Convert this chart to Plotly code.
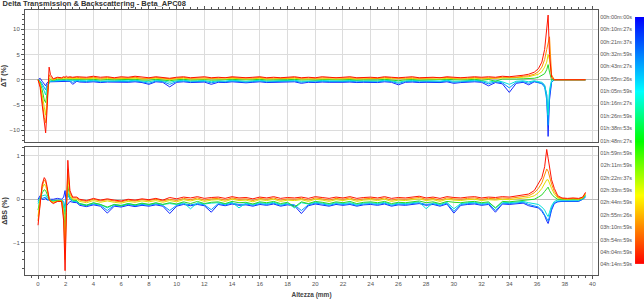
import plotly.graph_objects as go

# ---------------- data ----------------
X_A = [0.0, 0.15, 0.3, 0.45, 0.55, 0.65, 0.8, 0.9, 1.1, 1.4, 1.7, 1.85, 1.95, 2.05, 2.15, 2.3, 2.5, 2.8]
X_B = [3.0, 3.5, 4.0, 4.5, 5.0, 5.5, 6.0, 6.5, 7.0, 7.5, 8.0, 8.5, 9.0,
       9.5, 10.0, 10.5, 11.0, 11.5, 12.0, 12.5, 13.0, 13.5, 14.0, 14.5, 15.0, 15.5,
       16.0, 16.5, 17.0, 17.5, 18.0, 18.5, 19.0, 19.5, 20.0, 20.5, 21.0, 21.5, 22.0,
       22.5, 23.0, 23.5, 24.0, 24.5, 25.0, 25.5, 26.0, 26.5, 27.0, 27.5, 28.0, 28.5,
       29.0, 29.5, 30.0, 30.5, 31.0, 31.5, 32.0, 32.5, 33.0, 33.5, 34.0, 34.5, 35.0]
X_C = [35.4, 35.8, 36.1, 36.35, 36.55, 36.7, 36.8, 36.9, 37.05, 37.25, 37.5, 37.8, 38.2, 38.6, 39.0, 39.3, 39.5]
HEIGHT_MM = X_A + X_B + X_C

SCAN_NAMES = ["00h:01m:27s", "00h:23m:37s", "00h:43m:27s", "01h:05m:59s", "01h:38m:53s", "02h:33m:59s", "04h:14m:59s"]
SCAN_COLORS = ["rgb(20,40,255)", "rgb(0,150,255)", "rgb(0,225,215)", "rgb(40,215,40)",
               "rgb(225,225,0)", "rgb(255,140,0)", "rgb(255,20,0)"]

DT_BLUE = [0.0, 0.3, -0.3, -0.8, -1.2, -0.6, -0.3, -0.4, -0.4, -0.3, -0.3, -0.3, -0.3, -0.35, -0.3, -0.3, -0.9, -0.3,
           -0.45, -0.5, -0.4, -0.55, -0.45, -0.5, -0.45, -0.5, -0.4, -0.55, -0.9, -0.4, -0.5,
           -1.4, -0.5, -0.4, -0.55, -0.5, -0.45, -0.9, -0.5, -0.55, -0.4, -0.5, -0.6, -0.5,
           -0.4, -0.55, -0.5, -0.55, -0.5, -0.4, -0.7, -0.5, -0.55, -0.45, -0.5, -0.55, -0.5,
           -0.45, -0.55, -0.5, -0.5, -0.55, -0.4, -0.5, -1.0, -0.5, -0.45, -0.55, -0.5, -0.5,
           -0.55, -0.4, -0.7, -0.55, -0.5, -0.4, -0.5, -1.2, -0.55, -0.8, -2.5, -0.7, -0.5,
           -1.0, -0.4, -0.5, -0.7, -1.2, -3.0, -11.2, -4.0, -0.5, 0.0, 0.0, 0.0, 0.0, 0.0, 0.0, 0.0, 0.0]
DT_AZURE = [0.0, -0.2, -0.8, -1.6, -2.0, -1.0, -0.5, -0.3, -0.3, -0.2, -0.2, -0.2, -0.15, -0.2, -0.2, -0.25, -0.5, -0.2,
            -0.3, -0.35, -0.25, -0.4, -0.3, -0.35, -0.3, -0.35, -0.25, -0.4, -0.7, -0.25, -0.35,
            -0.9, -0.35, -0.25, -0.4, -0.35, -0.3, -0.6, -0.35, -0.4, -0.25, -0.35, -0.45, -0.35,
            -0.25, -0.4, -0.35, -0.4, -0.35, -0.25, -0.5, -0.35, -0.4, -0.3, -0.35, -0.4, -0.35,
            -0.3, -0.4, -0.35, -0.35, -0.4, -0.25, -0.35, -0.7, -0.35, -0.3, -0.4, -0.35, -0.35,
            -0.4, -0.25, -0.5, -0.4, -0.35, -0.25, -0.35, -0.8, -0.4, -0.6, -1.6, -0.5, -0.35,
            -0.7, -0.3, -0.5, -0.8, -1.5, -4.0, -9.0, -3.0, -0.5, 0.0, 0.0, 0.0, 0.0, 0.0, 0.0, 0.0, 0.0]
DT_CYAN = [0.0, -0.3, -1.2, -2.5, -3.0, -1.5, -0.5, -0.2, -0.2, -0.1, -0.1, -0.05, -0.1, 0.0, -0.05, -0.1, -0.1, -0.05,
           -0.15, -0.2, -0.1, -0.25, -0.15, -0.2, -0.15, -0.2, -0.1, -0.25, -0.4, -0.1, -0.2,
           -0.5, -0.2, -0.1, -0.25, -0.2, -0.15, -0.4, -0.2, -0.25, -0.1, -0.2, -0.3, -0.2,
           -0.1, -0.25, -0.2, -0.25, -0.2, -0.1, -0.3, -0.2, -0.25, -0.15, -0.2, -0.25, -0.2,
           -0.15, -0.25, -0.2, -0.2, -0.25, -0.1, -0.2, -0.5, -0.2, -0.15, -0.25, -0.2, -0.2,
           -0.25, -0.1, -0.3, -0.25, -0.2, -0.1, -0.2, -0.5, -0.2, -0.4, -0.9, -0.3, -0.2,
           -0.4, -0.2, -0.3, -0.5, -1.0, -3.0, -7.0, -2.0, 0.0, 0.0, 0.0, 0.0, 0.0, 0.0, 0.0, 0.0, 0.0]
DT_GREEN = [0.0, -0.5, -2.0, -4.0, -4.5, -2.5, -0.2, 0.0, -0.1, 0.1, 0.05, 0.1, 0.1, 0.15, 0.1, 0.1, 0.1, 0.1,
            0.05, 0.0, 0.1, -0.05, 0.05, 0.0, 0.05, 0.0, 0.1, -0.05, -0.1, 0.1, 0.0,
            -0.2, 0.0, 0.1, -0.05, 0.0, 0.05, -0.1, 0.0, -0.05, 0.1, 0.0, -0.05, 0.0,
            0.1, -0.05, 0.0, -0.05, 0.0, 0.1, -0.05, 0.0, -0.05, 0.05, 0.0, -0.05, 0.0,
            0.05, -0.05, 0.0, 0.0, -0.05, 0.1, 0.0, -0.2, 0.0, 0.05, -0.05, 0.0, 0.0,
            -0.05, 0.1, 0.0, -0.05, 0.0, 0.1, -0.1, 0.05, -0.3, 0.15, 0.1, 0.15, 0.2,
            0.2, 0.3, 0.5, 0.8, 1.2, 2.0, 3.0, 1.5, 0.0, 0.0, 0.0, 0.0, 0.0, 0.0, 0.0, 0.0, 0.0]
DT_YELLOW = [0.0, -0.8, -3.0, -6.0, -7.0, -4.0, 0.3, 0.2, 0.0, 0.3, 0.2, 0.3, 0.3, 0.35, 0.3, 0.3, 0.3, 0.35,
             0.25, 0.2, 0.3, 0.15, 0.25, 0.2, 0.25, 0.2, 0.3, 0.15, 0.2, 0.3, 0.2,
             0.05, 0.2, 0.3, 0.15, 0.2, 0.25, 0.2, 0.2, 0.15, 0.3, 0.2, 0.15, 0.2,
             0.3, 0.15, 0.2, 0.15, 0.2, 0.3, 0.15, 0.2, 0.15, 0.25, 0.2, 0.15, 0.2,
             0.25, 0.15, 0.2, 0.2, 0.15, 0.3, 0.2, 0.15, 0.2, 0.25, 0.15, 0.2, 0.2,
             0.15, 0.3, 0.2, 0.15, 0.2, 0.3, 0.2, 0.25, 0.2, 0.35, 0.3, 0.35, 0.5,
             0.6, 0.8, 1.1, 1.6, 2.5, 3.5, 5.0, 4.0, 0.5, 0.0, 0.0, 0.0, 0.0, 0.0, 0.0, 0.0, 0.0]
DT_ORANGE = [0.0, -1.0, -4.0, -7.5, -8.5, -5.0, 1.0, 0.5, 0.1, 0.4, 0.3, 0.5, 0.4, 0.5, 0.4, 0.45, 0.4, 0.5,
             0.4, 0.35, 0.5, 0.3, 0.45, 0.3, 0.4, 0.35, 0.5, 0.3, 0.3, 0.45, 0.35,
             0.2, 0.35, 0.45, 0.3, 0.35, 0.4, 0.3, 0.35, 0.3, 0.45, 0.35, 0.3, 0.35,
             0.45, 0.3, 0.35, 0.3, 0.35, 0.45, 0.3, 0.35, 0.3, 0.4, 0.35, 0.3, 0.35,
             0.4, 0.3, 0.35, 0.35, 0.3, 0.45, 0.35, 0.3, 0.35, 0.4, 0.3, 0.35, 0.35,
             0.3, 0.45, 0.35, 0.3, 0.35, 0.45, 0.35, 0.4, 0.35, 0.5, 0.45, 0.5, 0.7,
             0.8, 1.1, 1.6, 2.5, 4.0, 6.0, 7.5, 8.5, 1.0, 0.0, 0.0, 0.0, 0.0, 0.0, 0.0, 0.0, 0.0]
DT_RED = [0.0, -1.5, -5.0, -9.0, -10.5, -6.0, 2.5, 1.0, 0.2, 0.5, 0.4, 0.6, 0.5, 0.7, 0.5, 0.6, 0.5, 0.6,
          0.6, 0.5, 0.7, 0.5, 0.6, 0.4, 0.6, 0.5, 0.7, 0.5, 0.4, 0.6, 0.5,
          0.3, 0.5, 0.6, 0.4, 0.5, 0.6, 0.4, 0.5, 0.4, 0.6, 0.5, 0.4, 0.5,
          0.6, 0.4, 0.5, 0.4, 0.5, 0.6, 0.4, 0.5, 0.4, 0.6, 0.5, 0.4, 0.5,
          0.6, 0.4, 0.5, 0.5, 0.4, 0.6, 0.5, 0.4, 0.5, 0.6, 0.4, 0.5, 0.5,
          0.4, 0.6, 0.5, 0.4, 0.5, 0.6, 0.5, 0.6, 0.5, 0.7, 0.6, 0.7, 0.9,
          1.1, 1.5, 2.2, 3.5, 6.0, 10.0, 12.8, 5.0, 0.5, 0.0, 0.0, 0.0, 0.0, 0.0, 0.0, 0.0, 0.0]

BS_BLUE = [0.0, 0.08, 0.0, 0.0, 0.02, -0.02, 0.0, 0.0, 0.0, 0.02, 0.0, 0.05, 0.2, -0.15, -0.1, -0.05, -0.07, -0.08,
           -0.14, -0.17, -0.13, -0.16, -0.32, -0.16, -0.18, -0.14, -0.17, -0.14, -0.16, -0.13, -0.16,
           -0.33, -0.16, -0.12, -0.15, -0.12, -0.15, -0.3, -0.12, -0.15, -0.11, -0.14, -0.13, -0.16,
           -0.12, -0.14, -0.11, -0.16, -0.13, -0.15, -0.33, -0.15, -0.11, -0.13, -0.16, -0.12, -0.14,
           -0.12, -0.16, -0.13, -0.12, -0.14, -0.11, -0.16, -0.13, -0.14, -0.12, -0.1, -0.14, -0.12,
           -0.16, -0.11, -0.32, -0.14, -0.12, -0.11, -0.14, -0.12, -0.3, -0.11, -0.12, -0.1, -0.09,
           -0.15, -0.18, -0.2, -0.28, -0.38, -0.5, -0.56, -0.45, -0.25, -0.1, -0.06, -0.05, -0.05, -0.04, -0.05, 0.0, 0.05]
BS_AZURE = [-0.05, 0.05, 0.02, 0.05, 0.05, 0.0, -0.03, -0.02, -0.03, -0.02, -0.02, -0.05, -0.2, 0.05, 0.1, 0.0, -0.05, -0.06,
            -0.12, -0.15, -0.11, -0.14, -0.26, -0.14, -0.16, -0.12, -0.15, -0.12, -0.14, -0.11, -0.14,
            -0.26, -0.14, -0.1, -0.13, -0.1, -0.13, -0.24, -0.1, -0.13, -0.09, -0.12, -0.11, -0.14,
            -0.1, -0.12, -0.09, -0.14, -0.11, -0.13, -0.26, -0.13, -0.09, -0.11, -0.14, -0.1, -0.12,
            -0.1, -0.14, -0.11, -0.1, -0.12, -0.09, -0.14, -0.11, -0.12, -0.1, -0.08, -0.12, -0.1,
            -0.14, -0.09, -0.28, -0.12, -0.1, -0.09, -0.12, -0.1, -0.26, -0.09, -0.1, -0.08, -0.07,
            -0.12, -0.15, -0.18, -0.25, -0.35, -0.45, -0.5, -0.4, -0.2, -0.08, -0.05, -0.04, -0.04, -0.03, -0.04, 0.0, 0.06]
BS_CYAN = [-0.1, 0.02, 0.08, 0.1, 0.1, 0.05, -0.02, -0.03, -0.04, -0.03, -0.02, -0.1, -0.35, 0.0, 0.15, 0.02, -0.04, -0.05,
           -0.1, -0.13, -0.09, -0.12, -0.2, -0.12, -0.14, -0.1, -0.13, -0.1, -0.12, -0.09, -0.12,
           -0.1, -0.12, -0.08, -0.22, -0.08, -0.11, -0.09, -0.08, -0.11, -0.07, -0.2, -0.09, -0.12,
           -0.08, -0.1, -0.07, -0.12, -0.09, -0.2, -0.08, -0.11, -0.07, -0.09, -0.12, -0.08, -0.1,
           -0.08, -0.12, -0.09, -0.08, -0.1, -0.07, -0.12, -0.09, -0.1, -0.08, -0.06, -0.22, -0.08,
           -0.12, -0.07, -0.22, -0.1, -0.08, -0.07, -0.1, -0.08, -0.2, -0.07, -0.08, -0.06, -0.05,
           -0.08, -0.1, -0.12, -0.18, -0.25, -0.35, -0.4, -0.3, -0.15, -0.05, -0.02, -0.02, -0.02, -0.02, -0.02, 0.01, 0.08]
BS_GREEN = [-0.25, 0.0, 0.15, 0.22, 0.2, 0.12, 0.0, -0.03, -0.05, -0.03, -0.03, -0.2, -0.7, -0.05, 0.3, 0.05, -0.02, -0.03,
            -0.1, -0.14, -0.08, -0.12, -0.18, -0.12, -0.15, -0.1, -0.13, -0.09, -0.12, -0.08, -0.12,
            -0.08, -0.11, -0.06, -0.1, -0.05, -0.1, -0.07, -0.06, -0.1, -0.05, -0.08, -0.07, -0.11,
            -0.06, -0.08, -0.05, -0.1, -0.07, -0.18, -0.06, -0.1, -0.05, -0.07, -0.1, -0.06, -0.08,
            -0.05, -0.1, -0.07, -0.06, -0.08, -0.05, -0.1, -0.07, -0.08, -0.06, -0.04, -0.08, -0.06,
            -0.1, -0.05, -0.07, -0.08, -0.06, -0.05, -0.08, -0.06, -0.2, -0.05, -0.06, -0.04, -0.02,
            -0.02, 0.0, 0.05, 0.1, 0.18, 0.25, 0.28, 0.2, 0.12, 0.05, 0.0, 0.0, -0.01, 0.0, -0.01, 0.02, 0.1]
BS_YELLOW = [-0.4, 0.0, 0.25, 0.35, 0.3, 0.2, 0.0, -0.05, -0.06, -0.04, -0.03, -0.3, -1.1, -0.1, 0.5, 0.1, 0.0, 0.0,
             -0.05, -0.08, -0.03, -0.07, -0.04, -0.07, -0.09, -0.05, -0.07, -0.04, -0.06, -0.03, -0.07,
             -0.03, -0.06, -0.01, -0.04, 0.0, -0.05, -0.02, -0.01, -0.05, 0.0, -0.03, -0.02, -0.06,
             -0.01, -0.03, 0.0, -0.05, -0.02, -0.03, -0.01, -0.05, 0.0, -0.02, -0.05, -0.01, -0.03,
             0.0, -0.05, -0.02, -0.01, -0.03, 0.0, -0.05, -0.02, -0.03, -0.01, 0.01, -0.03, -0.01,
             -0.05, 0.0, -0.02, -0.03, -0.01, 0.0, -0.03, -0.01, -0.02, 0.0, -0.01, 0.01, 0.03,
             0.04, 0.08, 0.15, 0.25, 0.35, 0.45, 0.45, 0.35, 0.25, 0.12, 0.03, 0.01, 0.0, 0.01, 0.0, 0.03, 0.12]
BS_ORANGE = [-0.5, -0.05, 0.3, 0.45, 0.4, 0.25, 0.0, -0.05, -0.08, -0.05, -0.05, -0.4, -1.4, -0.2, 0.7, 0.15, 0.03, 0.03,
             -0.02, -0.05, 0.0, -0.04, -0.01, -0.04, -0.06, -0.02, -0.04, -0.01, -0.03, 0.0, -0.04,
             0.0, -0.03, 0.02, -0.01, 0.03, -0.02, 0.01, 0.02, -0.02, 0.03, 0.0, 0.01, -0.03,
             0.02, 0.0, 0.03, -0.02, 0.01, 0.0, 0.02, -0.02, 0.03, 0.01, -0.02, 0.02, 0.0,
             0.03, -0.02, 0.01, 0.02, 0.0, 0.03, -0.02, 0.01, 0.0, 0.02, 0.04, 0.0, 0.02,
             -0.02, 0.03, 0.01, 0.0, 0.02, 0.03, 0.0, 0.02, 0.01, 0.03, 0.02, 0.04, 0.06,
             0.08, 0.15, 0.25, 0.38, 0.55, 0.7, 0.65, 0.5, 0.35, 0.18, 0.05, 0.02, 0.01, 0.02, 0.01, 0.04, 0.14]
BS_RED = [-0.6, -0.1, 0.35, 0.5, 0.45, 0.3, 0.0, -0.05, -0.1, -0.05, -0.05, -0.5, -1.65, -0.3, 0.9, 0.2, 0.05, 0.05,
          0.0, -0.03, 0.02, -0.02, 0.01, -0.02, -0.04, 0.0, -0.02, 0.01, -0.01, 0.02, -0.02,
          0.04, 0.01, 0.05, 0.03, 0.06, 0.02, 0.04, 0.05, 0.02, 0.06, 0.03, 0.04, 0.01,
          0.05, 0.03, 0.06, 0.02, 0.04, 0.03, 0.05, 0.02, 0.06, 0.04, 0.02, 0.05, 0.03,
          0.06, 0.02, 0.04, 0.05, 0.03, 0.06, 0.02, 0.04, 0.03, 0.05, 0.07, 0.03, 0.05,
          0.02, 0.06, 0.04, 0.03, 0.05, 0.06, 0.03, 0.05, 0.04, 0.06, 0.05, 0.07, 0.09,
          0.12, 0.2, 0.35, 0.5, 0.75, 1.15, 0.95, 0.7, 0.45, 0.25, 0.08, 0.03, 0.02, 0.03, 0.02, 0.05, 0.16]

DT_SERIES = [DT_BLUE, DT_AZURE, DT_CYAN, DT_GREEN, DT_YELLOW, DT_ORANGE, DT_RED]
BS_SERIES = [BS_BLUE, BS_AZURE, BS_CYAN, BS_GREEN, BS_YELLOW, BS_ORANGE, BS_RED]

CB_LABELS = ["00h:00m:00s", "00h:10m:27s", "00h:21m:37s", "00h:32m:59s", "00h:43m:27s", "00h:55m:26s",
             "01h:05m:59s", "01h:16m:27s", "01h:26m:59s", "01h:38m:53s", "01h:48m:27s", "01h:59m:59s",
             "02h:11m:59s", "02h:22m:37s", "02h:33m:59s", "02h:44m:59s", "02h:55m:26s", "03h:10m:59s",
             "03h:54m:59s", "04h:04m:59s", "04h:14m:59s"]
CB_LEVELS = list(range(len(CB_LABELS)))

for s in DT_SERIES + BS_SERIES:
    assert len(s) == len(HEIGHT_MM), len(s)

# ---------------- figure ----------------
FONT = "Liberation Sans"
GRID = "#dcdcdc"
FRAME = "#555555"
RAINBOW = [[0.0, "rgb(0,0,255)"], [0.3, "rgb(0,255,255)"], [0.5, "rgb(0,255,0)"],
           [0.72, "rgb(255,255,0)"], [1.0, "rgb(255,0,0)"]]

fig = go.Figure()
for name, col, dt in zip(SCAN_NAMES, SCAN_COLORS, DT_SERIES):
    fig.add_trace(go.Scatter(x=HEIGHT_MM, y=dt, mode="lines", name=name,
                             line=dict(color=col, width=1), xaxis="x", yaxis="y", showlegend=False))
for name, col, bs in zip(SCAN_NAMES, SCAN_COLORS, BS_SERIES):
    fig.add_trace(go.Scatter(x=HEIGHT_MM, y=bs, mode="lines", name=name,
                             line=dict(color=col, width=1), xaxis="x2", yaxis="y2", showlegend=False))

fig.add_trace(go.Heatmap(z=[[v, v] for v in CB_LEVELS], x=[0, 1], y=CB_LEVELS,
                         colorscale=RAINBOW, zmin=0, zmax=CB_LEVELS[-1], zsmooth="best",
                         showscale=False, xaxis="x3", yaxis="y3", hoverinfo="skip"))

XDOM = [0, 0.9257]
xcommon = dict(range=[-0.94, 40.4], domain=XDOM, dtick=2, showgrid=True, gridcolor=GRID, gridwidth=1,
               showline=True, linecolor=FRAME, linewidth=1, mirror=True, zeroline=False,
               ticks="outside", ticklen=3, tickcolor=FRAME,
               minor=dict(dtick=0.5, ticks="outside", ticklen=2, tickcolor=FRAME, showgrid=False),
               tickfont=dict(size=6, color="#555", family=FONT))

fig.update_layout(
    width=644, height=299,
    margin=dict(l=25, r=0, t=10, b=16),
    paper_bgcolor="white", plot_bgcolor="white",
    font=dict(family=FONT, size=6, color="#444"),
    title=dict(text="<b>Delta Transmission & Backscattering - Beta_APC08</b>",
               x=0.004, xanchor="left", xref="container", y=0.997, yanchor="top", yref="container",
               font=dict(size=7.5, color="#333", family=FONT)),
    xaxis=dict(xcommon, anchor="y", side="top", showticklabels=False),
    xaxis2=dict(xcommon, anchor="y2", matches="x",
                title=dict(text="<b>Altezza (mm)</b>", standoff=7, font=dict(size=6.5, color="#444"))),
    yaxis=dict(domain=[0.502, 1.0], anchor="x", range=[-12.3, 13.8], dtick=5,
               showgrid=True, gridcolor=GRID, zeroline=True, zerolinecolor="#bbbbbb", zerolinewidth=1,
               showline=True, linecolor=FRAME, linewidth=1, mirror=True,
               ticks="outside", ticklen=3, tickcolor=FRAME,
               minor=dict(dtick=1, ticks="outside", ticklen=2, tickcolor=FRAME, showgrid=False),
               tickfont=dict(size=6, color="#555"),
               title=dict(text="<b>ΔT (%)</b>", standoff=4, font=dict(size=7, color="#333"))),
    yaxis2=dict(domain=[0.0, 0.4835], anchor="x2", range=[-1.75, 1.21], dtick=1,
                showgrid=True, gridcolor=GRID, zeroline=True, zerolinecolor="#bbbbbb", zerolinewidth=1,
                showline=True, linecolor=FRAME, linewidth=1, mirror=True,
                ticks="outside", ticklen=3, tickcolor=FRAME,
                minor=dict(dtick=0.2, ticks="outside", ticklen=2, tickcolor=FRAME, showgrid=False),
                tickfont=dict(size=6, color="#555"),
                title=dict(text="<b>ΔBS (%)</b>", standoff=4, font=dict(size=7, color="#333"))),
    xaxis3=dict(domain=[0.9855, 1.0], anchor="y3", range=[0, 1], visible=False),
    yaxis3=dict(domain=[0.0403, 0.974], anchor="x3", range=[CB_LEVELS[-1], 0], side="left",
                tickmode="array", tickvals=CB_LEVELS, ticktext=CB_LABELS, ticks="",
                showgrid=False, zeroline=False, showline=False, ticklabelstandoff=2,
                tickfont=dict(size=5.5, color="#555")),
)

fig.write_html("out.html")
